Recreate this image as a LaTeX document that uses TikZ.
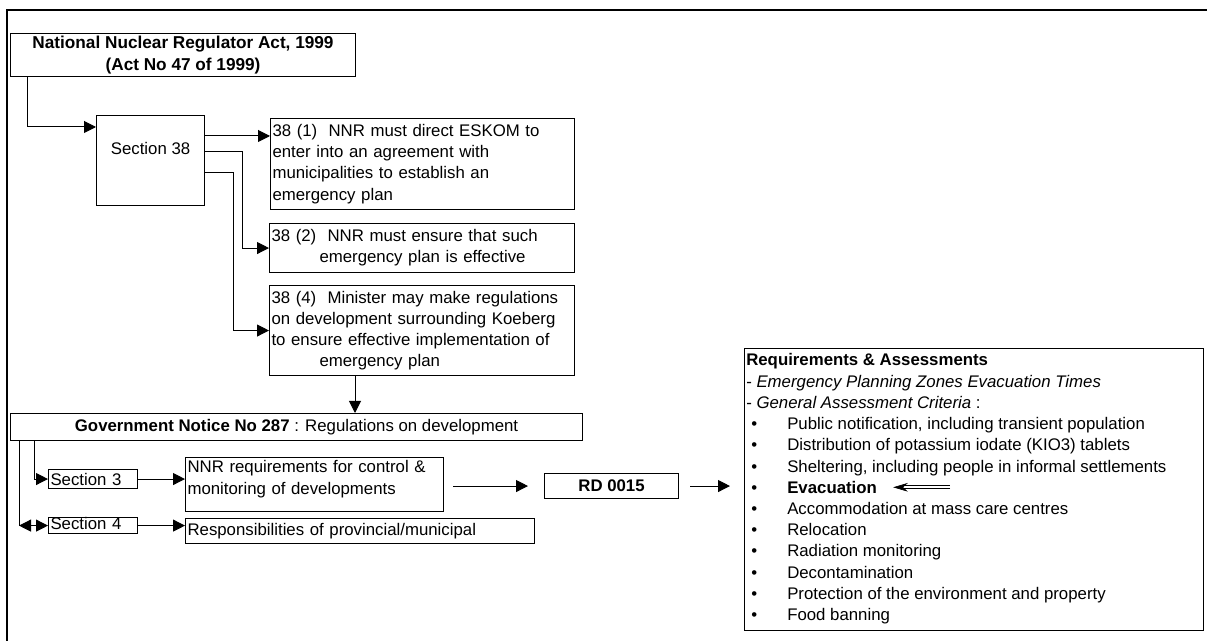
\documentclass[tikz,border=0pt]{standalone}
\usepackage{fontspec}
\setmainfont{Liberation Sans}
\usetikzlibrary{arrows.meta}

\begin{document}
\begin{tikzpicture}[x=0.75pt, y=-0.75pt,
  font=\fontsize{12.6}{15.9}\selectfont,
  box/.style={draw, line width=0.8pt, inner sep=1.5pt, anchor=north west},
  arr/.style={line width=0.75pt, -{Triangle[length=9pt,width=9pt]}},
  item/.style={inner sep=0pt, anchor=base west},
  dblarr/.style={double, double distance=1.8pt, line width=0.5pt, -{Stealth[length=11pt,width=6.5pt]}}]
\useasboundingbox (0,0) rectangle (1207,641);
\draw[line width=1.5pt] (7,641) -- (7,10) -- (1207,10);

\node[box, minimum width=258.75pt, minimum height=32.25pt, align=center, font=\fontsize{12.9}{17}\selectfont\bfseries] (act) at (10,33) {National Nuclear Regulator Act, 1999\\(Act No 47 of 1999)};
\node[box, minimum width=81pt, text height=27.4pt, text depth=37.1pt] (sec38) at (96,115) {Section 38};

\node[box, text width=225pt, minimum height=68.25pt, align=left] (s381) at (270,118) {38 (1)\ \ NNR must direct ESKOM to\\enter into an agreement with\\municipalities to establish an\\emergency plan};
\node[box, text width=225.75pt, minimum height=36.75pt, align=left] (s382) at (269,223) {38 (2)\ \ NNR must ensure that such\\\hspace*{36pt}emergency plan is effective};
\node[box, text width=225.75pt, minimum height=67.5pt, align=left] (s384) at (269,285) {38 (4)\ \ Minister may make regulations\\on development surrounding Koeberg\\to ensure effective implementation of\\\hspace*{36pt}emergency plan};

\node[box, minimum width=429pt, minimum height=20.25pt] (gn) at (10,413) {\textbf{Government Notice No 287} : Regulations on development};
\node[box, text width=63.75pt, minimum height=14.25pt, align=left] (sec3) at (48,469) {Section 3};
\node[box, text width=63.75pt, text height=9pt, text depth=2.5pt, inner ysep=0.3pt, align=left] (sec4) at (48,517) {Section 4};
\node[box, text width=190.5pt, text height=10.1pt, text depth=27.4pt, align=left] (req) at (185,457) {NNR requirements for control \&\\monitoring of developments};
\node[box, text width=258.75pt, minimum height=18.75pt, align=left] (resp) at (185,518) {Responsibilities of provincial/municipal};
\node[box, minimum width=100.5pt, minimum height=18.75pt, font=\fontsize{12.6}{15.9}\selectfont\bfseries] (rd) at (544,473) {RD 0015};

\node[box, minimum width=344.25pt, minimum height=211.5pt] (reqs) at (744,348) {};
\node[item] (title) at (746,365.5) {\textbf{Requirements \& Assessments}};
\node[item] (epz) at (746,387.5) {- \textit{Emergency Planning Zones Evacuation Times}};
\node[item] (gac) at (746,408.5) {- \textit{General Assessment Criteria} :};
\foreach \t [count=\i] in {{Public notification, including transient population},
  Distribution of potassium iodate (KIO3) tablets,
  {Sheltering, including people in informal settlements},
  \textbf{Evacuation}, Accommodation at mass care centres, Relocation,
  Radiation monitoring, Decontamination,
  Protection of the environment and property, Food banning}{
  \node[item] (b\i) at (751,408.5+\i*21.2) {\textbullet};
  \node[item] (item\i) at (787,408.5+\i*21.2) {\t};
}

\draw[arr] ([xshift=12.75pt]act.south west) |- ([yshift=-9pt]sec38.north west);
\draw[arr] ([yshift=-15.75pt]sec38.north east) coordinate (p1) -- (p1 -| s381.west);
\draw[arr] ([yshift=-27.75pt]sec38.north east) -- ++(37,0) |- (s382.west);
\draw[arr] ([yshift=-43.5pt]sec38.north east) -- ++(28,0) |- (s384.west);
\draw[arr] ([xshift=64.5pt]s384.south west) coordinate (p2) -- (p2 |- gn.north);
\draw[arr] ([xshift=18pt]gn.south west) |- (sec3.west);
\draw[line width=0.75pt] ([xshift=6.75pt]gn.south west) coordinate (p3) -- (p3 |- sec4.west) coordinate (p4);
\draw[line width=0.75pt, {Triangle[length=9pt,width=9pt]}-{Triangle[length=9pt,width=9pt]}] (p4) -- (sec4.west);
\draw[arr] (sec3.east) -- (sec3.east -| req.west);
\draw[arr] (sec4.east) -- (sec4.east -| resp.west);
\draw[arr] ([xshift=6.75pt]req.east |- rd.west) -- ([xshift=-12pt]rd.west);
\draw[arr] ([xshift=8.25pt]rd.east) -- ([xshift=-10.5pt]rd.east -| reqs.west);
\draw[dblarr] ([xshift=54.75pt]item4.east) -- ([xshift=12pt]item4.east);
\end{tikzpicture}
\end{document}
